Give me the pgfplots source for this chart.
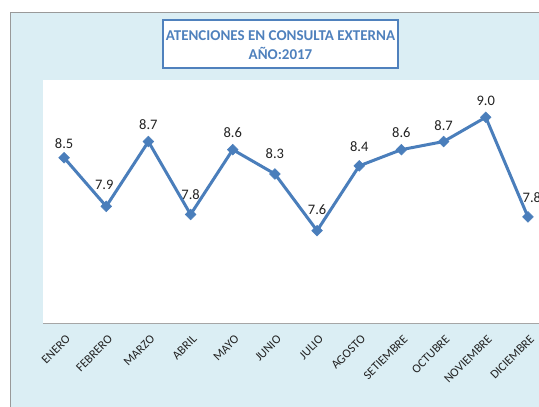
\documentclass[border=0pt]{standalone}
\usepackage{pgfplots}
\usepackage{pgfplotstable}
\pgfplotsset{compat=1.18}
\usepackage{fontspec}
\setmainfont{Carlito}
\definecolor{bgblue}{RGB}{219,238,244}
\definecolor{lineblue}{RGB}{74,126,187}
\definecolor{titleblue}{RGB}{79,129,189}
\definecolor{labelgray}{RGB}{35,35,35}
\pgfplotstableread{
x  y     yoff xoff
0  8.5   14   0
1  7.9   22   -2
2  8.7   17   0
3  7.8   20   0
4  8.6   17   0
5  8.3   20   0
6  7.6   21   0
7  8.4   19   0
8  8.6   17   0
9  8.7   16   0
10 9.0   16   0
11 7.77  19   4
}\datatable
\begin{document}
\begin{tikzpicture}[x=1pt,y=1pt,
  /pgf/number format/fixed,
  /pgf/number format/fixed zerofill,
  /pgf/number format/precision=1,
  /pgf/number format/assume math mode=true]
\useasboundingbox (0,0) rectangle (539,407);
\clip (0,0) rectangle (539,407);
\fill[white] (0,0) rectangle (539,407);
\fill[bgblue] (10,-5) rectangle (560,394);
\draw[gray!80, line width=1pt] (10,-5) -- (10,394) -- (560,394);
\begin{axis}[
  at={(43pt,84pt)}, anchor=south west,
  scale only axis, width=506pt, height=243pt,
  xmin=-0.5, xmax=11.5, ymin=6.46, ymax=9.46,
  axis background/.style={fill=white},
  axis x line=bottom, axis y line=none,
  x axis line style={-, draw=gray!70, line width=0.8pt},
  xtick=data,
  xticklabels={ENERO,FEBRERO,MARZO,ABRIL,MAYO,JUNIO,JULIO,AGOSTO,SETIEMBRE,OCTUBRE,NOVIEMBRE,DICIEMBRE},
  major tick length=0pt,
  x tick label style={rotate=45, anchor=east, font=\fontsize{12.3}{12.3}\selectfont, text=labelgray, inner sep=1pt, yshift=-13pt, xshift=-6pt},
  ytick=\empty,
  clip=false,
]
\addplot[color=lineblue, line width=3pt, mark=square*, mark size=3.8pt,
  mark options={rotate=45, fill=lineblue, draw=lineblue, line width=0.5pt},
  visualization depends on={\thisrow{yoff}\as\yoff},
  visualization depends on={\thisrow{xoff}\as\xoff},
  nodes near coords,
  every node near coord/.append style={font=\fontsize{14.5}{14.5}\selectfont, text=labelgray, anchor=center, inner sep=0pt, yshift=\yoff pt, xshift=\xoff pt},
] table[x=x, y=y] {\datatable};
\end{axis}
\fill[white] (163,339) rectangle (398,387);
\draw[titleblue, line width=1.3pt] (163,339) rectangle (398,387);
\node[align=center, text=titleblue, font=\fontsize{15}{19}\selectfont\bfseries] at (280.5,361.5) {ATENCIONES EN CONSULTA EXTERNA\\AÑO:2017};
\end{tikzpicture}
\end{document}
